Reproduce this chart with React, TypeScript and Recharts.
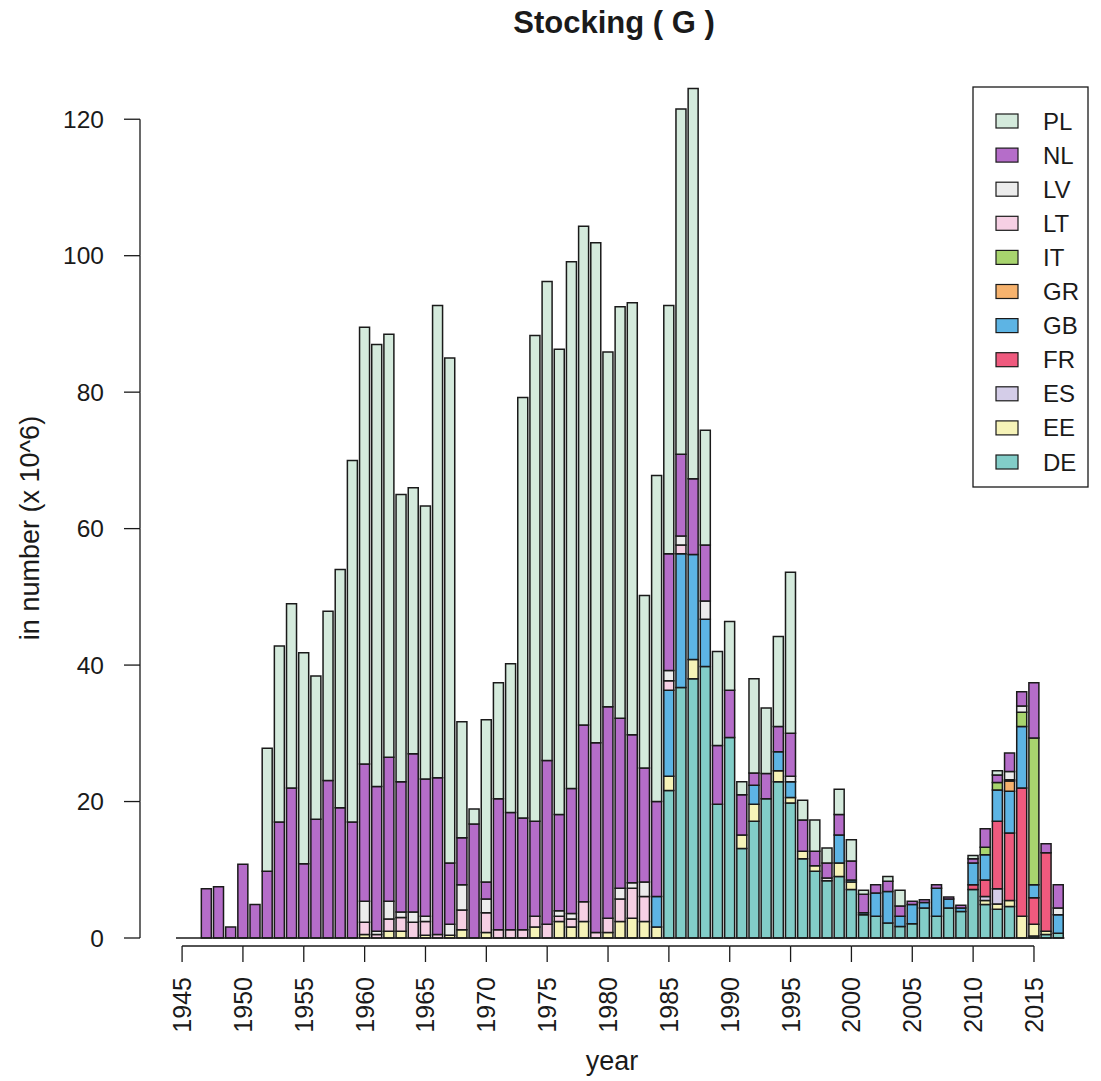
import React from "react";
import { BarChart, Bar, XAxis, YAxis, ReferenceLine } from "recharts";

// years 1945..2017
const years: number[] = [];
for (let y = 1945; y <= 2017; y++) years.push(y);

// values in number x 10^6, one entry per year (rows of 10 years from 1945)
const DE = [
  0, 0, 0, 0, 0, 0, 0, 0, 0, 0,
  0, 0, 0, 0, 0, 0, 0, 0, 0, 0,
  0, 0, 0, 0, 0, 0, 0, 0, 0, 0,
  0, 0, 0, 0, 0, 0, 0, 0, 0, 0,
  21.6, 36.7, 38, 39.8, 19.6, 29.4, 13.1, 17.1, 20.4, 22.9,
  19.8, 11.6, 9.8, 8.4, 9, 7.1, 3.4, 3.2, 2.2, 1.7,
  2.1, 4.4, 3.2, 4.4, 3.9, 7.1, 4.9, 4.2, 4.6, 0,
  0.3, 0.5, 0.7,
];
const EE = [
  0, 0, 0, 0, 0, 0, 0, 0, 0, 0,
  0, 0, 0, 0, 0, 0.5, 0, 1, 1, 0,
  0.4, 0, 0.4, 1.2, 0, 0.8, 0, 0, 0, 1.6,
  0, 2.4, 1.6, 2.4, 0, 0.8, 2.4, 2.9, 2.4, 1.6,
  2.1, 0, 2.8, 0, 0, 0, 2, 2.5, 0, 1.6,
  0.8, 1.1, 0.8, 0, 2, 1.1, 0, 0, 0, 0,
  0, 0, 0, 0, 0, 0, 0.6, 0.8, 0.9, 3.2,
  1.7, 0.5, 0,
];
const ES = [
  0, 0, 0, 0, 0, 0, 0, 0, 0, 0,
  0, 0, 0, 0, 0, 0, 0, 0, 0, 0,
  0, 0, 0, 0, 0, 0, 0, 0, 0, 0,
  0, 0, 0, 0, 0, 0, 0, 0, 0, 0,
  0, 0, 0, 0, 0, 0, 0, 0, 0, 0,
  0, 0, 0, 0, 0, 0, 0, 0, 0, 0,
  0, 0, 0, 0, 0, 0, 0.6, 2.2, 0, 0,
  0, 0, 0,
];
const FR = [
  0, 0, 0, 0, 0, 0, 0, 0, 0, 0,
  0, 0, 0, 0, 0, 0, 0, 0, 0, 0,
  0, 0, 0, 0, 0, 0, 0, 0, 0, 0,
  0, 0, 0, 0, 0, 0, 0, 0, 0, 0,
  0, 0, 0, 0, 0, 0, 0, 0, 0, 0,
  0, 0, 0, 0, 0, 0, 0, 0, 0, 0,
  0, 0, 0, 0, 0, 0.7, 2.4, 9.9, 9.9, 18.8,
  3.9, 11.5, 0,
];
const GB = [
  0, 0, 0, 0, 0, 0, 0, 0, 0, 0,
  0, 0, 0, 0, 0, 0, 0, 0, 0, 0,
  0, 0, 0, 0, 0, 0, 0, 0, 0, 0,
  0, 0, 0, 0, 0, 0, 0, 0, 0, 4.5,
  12.6, 19.6, 15.4, 6.9, 0, 0, 0, 2.8, 0, 2.8,
  2.3, 0, 0, 0, 4.1, 0.3, 0.3, 3.4, 4.6, 1.5,
  2.8, 0.8, 4.1, 1.3, 0.5, 3.2, 3.7, 4.6, 6.1, 9,
  1.9, 0, 2.7,
];
const GR = [
  0, 0, 0, 0, 0, 0, 0, 0, 0, 0,
  0, 0, 0, 0, 0, 0, 0, 0, 0, 0,
  0, 0, 0, 0, 0, 0, 0, 0, 0, 0,
  0, 0, 0, 0, 0, 0, 0, 0, 0, 0,
  0, 0, 0, 0, 0, 0, 0, 0, 0, 0,
  0, 0, 0, 0, 0, 0, 0, 0, 0, 0,
  0, 0, 0, 0, 0, 0, 0, 0, 1.5, 0,
  0, 0, 0,
];
const IT = [
  0, 0, 0, 0, 0, 0, 0, 0, 0, 0,
  0, 0, 0, 0, 0, 0, 0, 0, 0, 0,
  0, 0, 0, 0, 0, 0, 0, 0, 0, 0,
  0, 0, 0, 0, 0, 0, 0, 0, 0, 0,
  0, 0, 0, 0, 0, 0, 0, 0, 0, 0,
  0, 0, 0, 0, 0, 0, 0, 0, 0, 0,
  0, 0, 0, 0, 0, 0, 1.1, 1.1, 0, 2.1,
  21.5, 0, 0,
];
const LT = [
  0, 0, 0, 0, 0, 0, 0, 0, 0, 0,
  0, 0, 0, 0, 0, 1.8, 0.5, 1.8, 2, 2.3,
  2, 0.5, 0, 2.9, 0, 2.9, 1.2, 1.2, 1.2, 1.6,
  2, 0.8, 1.2, 2.9, 0.8, 2.1, 3.3, 4.4, 3.7, 0,
  1.4, 1.3, 0, 0, 0, 0, 0, 0, 0, 0,
  0, 0, 0, 0, 0, 0, 0, 0, 0, 0,
  0, 0, 0, 0, 0, 0, 0, 0, 0.2, 0,
  0, 0, 0,
];
const LV = [
  0, 0, 0, 0, 0, 0, 0, 0, 0, 0,
  0, 0, 0, 0, 0, 3.1, 0.5, 2.6, 0.8, 1.5,
  0.8, 0, 1.6, 3.7, 0, 2, 0, 0, 0, 0,
  0, 0.8, 0.8, 0, 0, 0, 1.6, 0.8, 2.1, 0,
  1.5, 1.3, 0, 2.7, 0, 0, 0, 0, 0, 0,
  0.8, 0, 0, 0.4, 0, 0, 0, 0, 0, 0,
  0, 0, 0, 0, 0, 0, 0, 0, 1.2, 0.9,
  0, 0, 1,
];
const NL = [
  0, 0, 7.2, 7.5, 1.6, 10.8, 4.9, 9.8, 17, 22,
  10.9, 17.4, 23.1, 19.1, 17, 20.1, 21.2, 21.1, 19.1, 23.2,
  20.1, 23, 9, 6.9, 16.7, 2.5, 19.2, 17.2, 16.4, 13.9,
  24, 14.1, 18.3, 25.9, 27.8, 31, 24.9, 21.7, 16.7, 13.9,
  17.1, 12, 11.1, 8.2, 8.6, 6.9, 5.9, 1.8, 3.7, 3.7,
  6.3, 4.6, 2.1, 2.2, 3, 2.8, 2.7, 1.2, 1.5, 1.5,
  0.5, 0.4, 0.5, 0.3, 0.4, 0.6, 2.7, 1.1, 2.7, 2.1,
  8.1, 1.3, 3.4,
];
const PL = [
  0, 0, 0, 0, 0, 0, 0, 18, 25.8, 27,
  30.9, 21, 24.8, 34.9, 53, 64, 64.8, 62, 42.1, 39,
  40, 69.2, 74, 17, 2.2, 23.8, 17, 21.8, 61.6, 71.2,
  70.2, 68.2, 77.2, 73.1, 73.3, 52, 60.3, 63.3, 25.3, 47.8,
  36.4, 50.6, 57.2, 16.8, 13.8, 10.1, 1.9, 13.8, 9.6, 13.2,
  23.6, 2.9, 4.6, 2.2, 3.7, 3.1, 0.6, 0, 0.7, 2.3,
  0, 0, 0, 0, 0, 0.5, 0, 0.6, 0, 0,
  0, 0, 0,
];

const yTicks = [0, 20, 40, 60, 80, 100, 120];

// stacking order bottom -> top
const SERIES = [
  { key: "DE", values: DE, color: "#82cdc8" },
  { key: "EE", values: EE, color: "#f6f3b8" },
  { key: "ES", values: ES, color: "#d4cde8" },
  { key: "FR", values: FR, color: "#ef5a7e" },
  { key: "GB", values: GB, color: "#5db4e4" },
  { key: "GR", values: GR, color: "#f6b26d" },
  { key: "IT", values: IT, color: "#a8d46e" },
  { key: "LT", values: LT, color: "#f6d0e4" },
  { key: "LV", values: LV, color: "#ececec" },
  { key: "NL", values: NL, color: "#b56dc9" },
  { key: "PL", values: PL, color: "#d4eadc" },
];

const data = years.map((year, i) => {
  const row: Record<string, number> = { year };
  SERIES.forEach((s) => (row[s.key] = s.values[i]));
  return row;
});

const W = 1101;
const H = 1081;
const TOP = 51;
const BOTTOM = 938;
const LEFT = 176;
const RIGHT_MARGIN = 36.6;
const Y_MAX = 130;
const PXU = (BOTTOM - TOP) / Y_MAX;
const BAND = (W - RIGHT_MARGIN - LEFT) / years.length;
const FONT = "'Liberation Sans', Arial, Helvetica, sans-serif";
const INK = "#1a1a1a";

function YTick(props: any) {
  const { y, payload } = props;
  const v = payload.value;
  return (
    <g>
      <line x1={124} x2={140} y1={y} y2={y} stroke={INK} strokeWidth={1.3} />
      {v > 0 && <line x1={140} x2={140} y1={y} y2={y + 20 * PXU} stroke={INK} strokeWidth={1.3} />}
      <text x={104} y={y} textAnchor="end" dominantBaseline="central" fontSize={24.5} fill={INK} fontFamily={FONT}>
        {v}
      </text>
    </g>
  );
}

function XTick(props: any) {
  const { x, payload } = props;
  const yr = Number(payload.value);
  if (yr % 5 !== 0) return <g />;
  const ay = 946;
  return (
    <g>
      <line x1={x} x2={x} y1={ay} y2={ay + 16} stroke={INK} strokeWidth={1.3} />
      {yr < 2015 && <line x1={x} x2={x + 5 * BAND} y1={ay} y2={ay} stroke={INK} strokeWidth={1.3} />}
      <text
        x={x}
        y={977}
        transform={`rotate(-90 ${x} 977)`}
        textAnchor="end"
        dominantBaseline="central"
        fontSize={25}
        fill={INK}
        fontFamily={FONT}
      >
        {yr}
      </text>
    </g>
  );
}

export default function App() {
  const legendItems = [...SERIES].reverse();
  return (
    <div style={{ position: "relative", width: W, height: H, background: "#fff", fontFamily: FONT }}>
      <style>{`html, body { margin: 0; padding: 0; overflow: hidden; }`}</style>
      <BarChart
        width={W}
        height={H}
        data={data}
        margin={{ top: TOP, right: RIGHT_MARGIN, bottom: 0, left: 0 }}
        barCategoryGap={1}
      >
        <XAxis
          dataKey="year"
          type="category"
          interval={0}
          height={H - BOTTOM}
          axisLine={false}
          tickLine={false}
          tick={<XTick />}
        />
        <YAxis
          type="number"
          domain={[0, Y_MAX]}
          ticks={yTicks}
          interval={0}
          width={LEFT}
          axisLine={false}
          tickLine={false}
          tick={<YTick />}
        />
        {SERIES.map((s) => (
          <Bar
            key={s.key}
            dataKey={s.key}
            stackId="a"
            fill={s.color}
            stroke={INK}
            strokeWidth={1.5}
            isAnimationActive={false}
          />
        ))}
        <ReferenceLine y={0} stroke={INK} strokeWidth={1.3} />
      </BarChart>
      <svg
        width={W}
        height={H}
        style={{ position: "absolute", left: 0, top: 0, pointerEvents: "none" }}
      >
        <text x={614} y={33} textAnchor="middle" fontSize={31} fontWeight="bold" fill={INK} fontFamily={FONT}>
          Stocking ( G )
        </text>
        <text
          x={39}
          y={528}
          transform="rotate(-90 39 528)"
          textAnchor="middle"
          fontSize={27}
          fill={INK}
          fontFamily={FONT}
        >
          in number (x 10^6)
        </text>
        <text x={612} y={1070} textAnchor="middle" fontSize={27} fill={INK} fontFamily={FONT}>
          year
        </text>
        <rect x={973} y={87} width={115} height={400} fill="#fff" stroke={INK} strokeWidth={1.3} />
        {legendItems.map((s, i) => {
          const cy = 121 + i * 34.1;
          return (
            <g key={s.key}>
              <rect x={996} y={cy - 7} width={22} height={14} fill={s.color} stroke={INK} strokeWidth={1.2} />
              <text x={1043} y={cy} dominantBaseline="central" fontSize={24} fill={INK} fontFamily={FONT}>
                {s.key}
              </text>
            </g>
          );
        })}
      </svg>
    </div>
  );
}
